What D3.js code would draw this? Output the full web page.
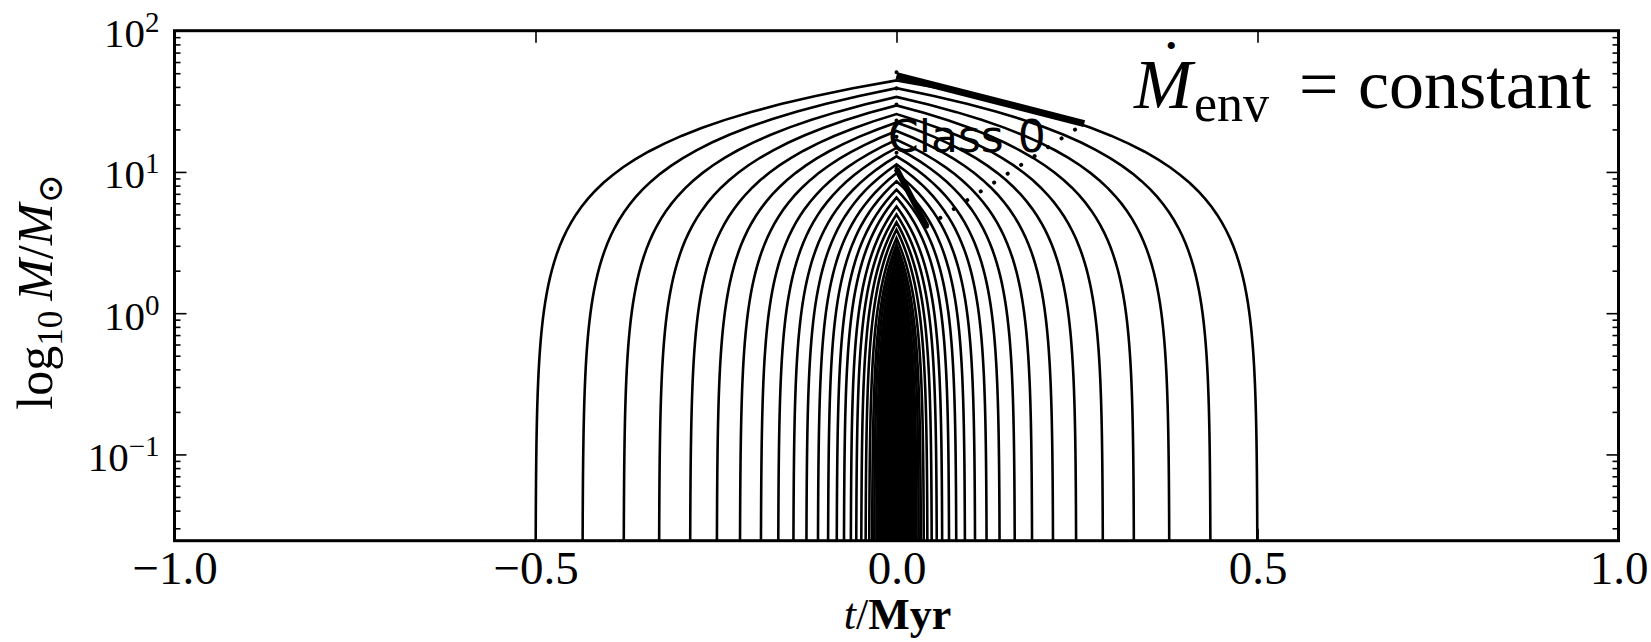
<!DOCTYPE html>
<html>
<head>
<meta charset="utf-8">
<script src="https://cdn.jsdelivr.net/npm/d3@7"></script>
<style>
  body { margin: 0; background: #fff; }
  text { fill: #000; }
</style>
</head>
<body>
<svg id="chart" width="1651" height="642"></svg>
<script>
// start time (|t| where each track leaves the bottom) and final mass at t = 0
const startTimes = [0.500, 0.435, 0.378, 0.329, 0.286, 0.249, 0.217, 0.188, 0.164, 0.143,
  0.125, 0.109, 0.095, 0.083, 0.073, 0.0635, 0.056, 0.049, 0.043, 0.038,
  0.034, 0.031, 0.028, 0.0255, 0.023, 0.021, 0.019, 0.017, 0.0155, 0.014,
  0.0125, 0.0112, 0.010, 0.009, 0.008, 0.007, 0.006, 0.005, 0.004, 0.003, 0.002];
const peakMasses = [44.5, 39.2, 34.0, 29.6, 25.7, 22.4, 19.5, 16.9, 14.8, 12.9,
  11.3, 9.8, 8.6, 7.5, 6.6, 5.7, 5.0, 4.4, 3.9, 3.4,
  3.06, 2.79, 2.52, 2.3, 2.07, 1.89, 1.71, 1.53, 1.4, 1.26,
  1.13, 1.0, 0.9, 0.81, 0.72, 0.63, 0.54, 0.45, 0.36, 0.27, 0.18];

// Class 0 boundaries
const classTop = [{ t: 0, m: 48 }, { t: 0.26, m: 22 }];
const classBottom = [{ t: 0, m: 10.5 }, { t: 0.042, m: 4.1 }];
const classEdge = [{ t: 0.042, m: 4.1 }, { t: 0.26, m: 22 }];
const classAxis = [{ t: 0, m: 10.5 }, { t: 0, m: 52 }];
const classLabel = { t: -0.0118, m: 13.9, text: "Class 0" };

const xTicks = [-1, -0.5, 0, 0.5, 1];
const xTickLabels = ["\u22121.0", "\u22120.5", "0.0", "0.5", "1.0"];
const yTicks = [0.1, 1, 10, 100];
const yTickExps = ["\u22121", "0", "1", "2"];

const serif = "'Liberation Serif', 'DejaVu Serif', serif";

const svg = d3.select("#chart");
const x = d3.scaleLinear().domain([-1, 1]).range([174.5, 1618.5]);
const y = d3.scaleLog().domain([0.0245, 100]).range([540.7, 30.7]);

svg.append("defs").append("clipPath").attr("id", "plot")
  .append("rect")
  .attr("x", x(-1)).attr("y", y(100))
  .attr("width", x(1) - x(-1)).attr("height", y(0.0245) - y(100));

// each track is a triangle in linear mass: (-t0, 0) -> (0, Mf) -> (t0, 0);
// sample its straight edges so they project properly through the log scale
const track = (t0, mf) => {
  const lo = y.domain()[0] * 0.8;
  const n = 60;
  const rise = d3.range(n + 1).map(i => lo * Math.pow(mf / lo, i / n));
  const left = rise.map(m => ({ t: -t0 * (1 - m / mf), m }));
  const right = rise.slice(0, -1).reverse().map(m => ({ t: t0 * (1 - m / mf), m }));
  return left.concat(right);
};

const line = d3.line().x(d => x(d.t)).y(d => y(d.m));

const plot = svg.append("g").attr("clip-path", "url(#plot)");

plot.append("g")
  .attr("fill", "none")
  .attr("stroke", "#000")
  .attr("stroke-width", 2.6)
  .selectAll("path")
  .data(startTimes.map((t0, i) => track(t0, peakMasses[i])))
  .join("path")
  .attr("d", line);

plot.append("path").datum(classTop)
  .attr("d", line).attr("stroke", "#000").attr("stroke-width", 7).attr("fill", "none");
plot.append("path").datum(classBottom)
  .attr("d", line).attr("stroke", "#000").attr("stroke-width", 6).attr("fill", "none");

plot.selectAll(".dots")
  .data([classEdge, classAxis])
  .join("path")
  .attr("class", "dots")
  .attr("d", line)
  .attr("fill", "none")
  .attr("stroke", "#000")
  .attr("stroke-width", 4)
  .attr("stroke-linecap", "round")
  .attr("stroke-dasharray", "0.1 16");

svg.append("text")
  .attr("x", x(classLabel.t))
  .attr("y", y(classLabel.m))
  .attr("font-family", "'DejaVu Sans', sans-serif")
  .attr("font-size", 44)
  .text(classLabel.text);

// frame
svg.append("rect")
  .attr("x", x(-1)).attr("y", y(100))
  .attr("width", x(1) - x(-1)).attr("height", y(0.0245) - y(100))
  .attr("fill", "none").attr("stroke", "#000").attr("stroke-width", 3);

// ticks point inwards on all four sides
const minor = y.ticks().filter(v => !yTicks.some(t => Math.abs(t - v) < 1e-9));

const styleAxis = g => {
  g.select(".domain").remove();
  g.selectAll(".tick line").attr("stroke", "#000").attr("stroke-width", 1.6);
};

svg.append("g").attr("transform", `translate(0,${y(0.0245)})`)
  .call(d3.axisBottom(x).tickValues(xTicks).tickSizeInner(-12).tickSizeOuter(0)
    .tickPadding(10).tickFormat((d, i) => xTickLabels[i]))
  .call(styleAxis)
  .call(g => g.selectAll("text").attr("font-family", serif).attr("font-size", 47).attr("fill", "#000"));

svg.append("g").attr("transform", `translate(0,${y(100)})`)
  .call(d3.axisTop(x).tickValues(xTicks).tickSizeInner(-12).tickSizeOuter(0).tickFormat(""))
  .call(styleAxis);

svg.append("g").attr("transform", `translate(${x(-1)},0)`)
  .call(d3.axisLeft(y).tickValues(minor).tickSizeInner(-6).tickSizeOuter(0).tickFormat(""))
  .call(styleAxis);
svg.append("g").attr("transform", `translate(${x(1)},0)`)
  .call(d3.axisRight(y).tickValues(minor).tickSizeInner(-6).tickSizeOuter(0).tickFormat(""))
  .call(styleAxis);
svg.append("g").attr("transform", `translate(${x(1)},0)`)
  .call(d3.axisRight(y).tickValues(yTicks).tickSizeInner(-12).tickSizeOuter(0).tickFormat(""))
  .call(styleAxis);

svg.append("g").attr("transform", `translate(${x(-1)},0)`)
  .call(d3.axisLeft(y).tickValues(yTicks).tickSizeInner(-12).tickSizeOuter(0).tickPadding(15)
    .tickFormat(""))
  .call(styleAxis)
  .call(g => g.selectAll(".tick text").each(function (d, i) {
    const t = d3.select(this)
      .attr("font-family", serif).attr("font-size", 41).attr("fill", "#000")
      .attr("dy", 16);
    t.append("tspan").text("10");
    t.append("tspan").attr("font-size", 29).attr("dy", -15).text(yTickExps[i]);
  }));

// axis titles
const xl = svg.append("text")
  .attr("x", (x(-1) + x(1)) / 2 + 1).attr("y", 629)
  .attr("text-anchor", "middle")
  .attr("font-family", serif).attr("font-size", 44);
xl.append("tspan").attr("font-style", "italic").text("t");
xl.append("tspan").text("/");
xl.append("tspan").attr("font-weight", "bold").text("Myr");

const yl = svg.append("text")
  .attr("transform", "translate(52,292) rotate(-90)")
  .attr("text-anchor", "middle")
  .attr("font-family", serif).attr("font-size", 50);
yl.append("tspan").text("log");
yl.append("tspan").attr("font-size", 35).attr("dy", 10).text("10");
yl.append("tspan").attr("dy", -10).attr("font-style", "italic").text("\u2009M");
yl.append("tspan").text("/");
yl.append("tspan").attr("font-style", "italic").text("M");
yl.append("tspan").attr("font-size", 35).attr("dy", 10).text("\u2299");

// annotation in the upper right
const title = svg.append("g").attr("font-family", serif).attr("font-size", 70);
const mdot = title.append("text").attr("x", 1134).attr("y", 108);
mdot.append("tspan").attr("font-style", "italic").text("M");
mdot.append("tspan").attr("x", 1166).attr("y", 56).attr("font-size", 30).text("\u2022");
title.append("text").attr("x", 1194).attr("y", 121).attr("font-size", 52).text("env");
title.append("text").attr("x", 1299).attr("y", 108).text("=");
title.append("text").attr("x", 1358).attr("y", 108).text("constant");
</script>
</body>
</html>
